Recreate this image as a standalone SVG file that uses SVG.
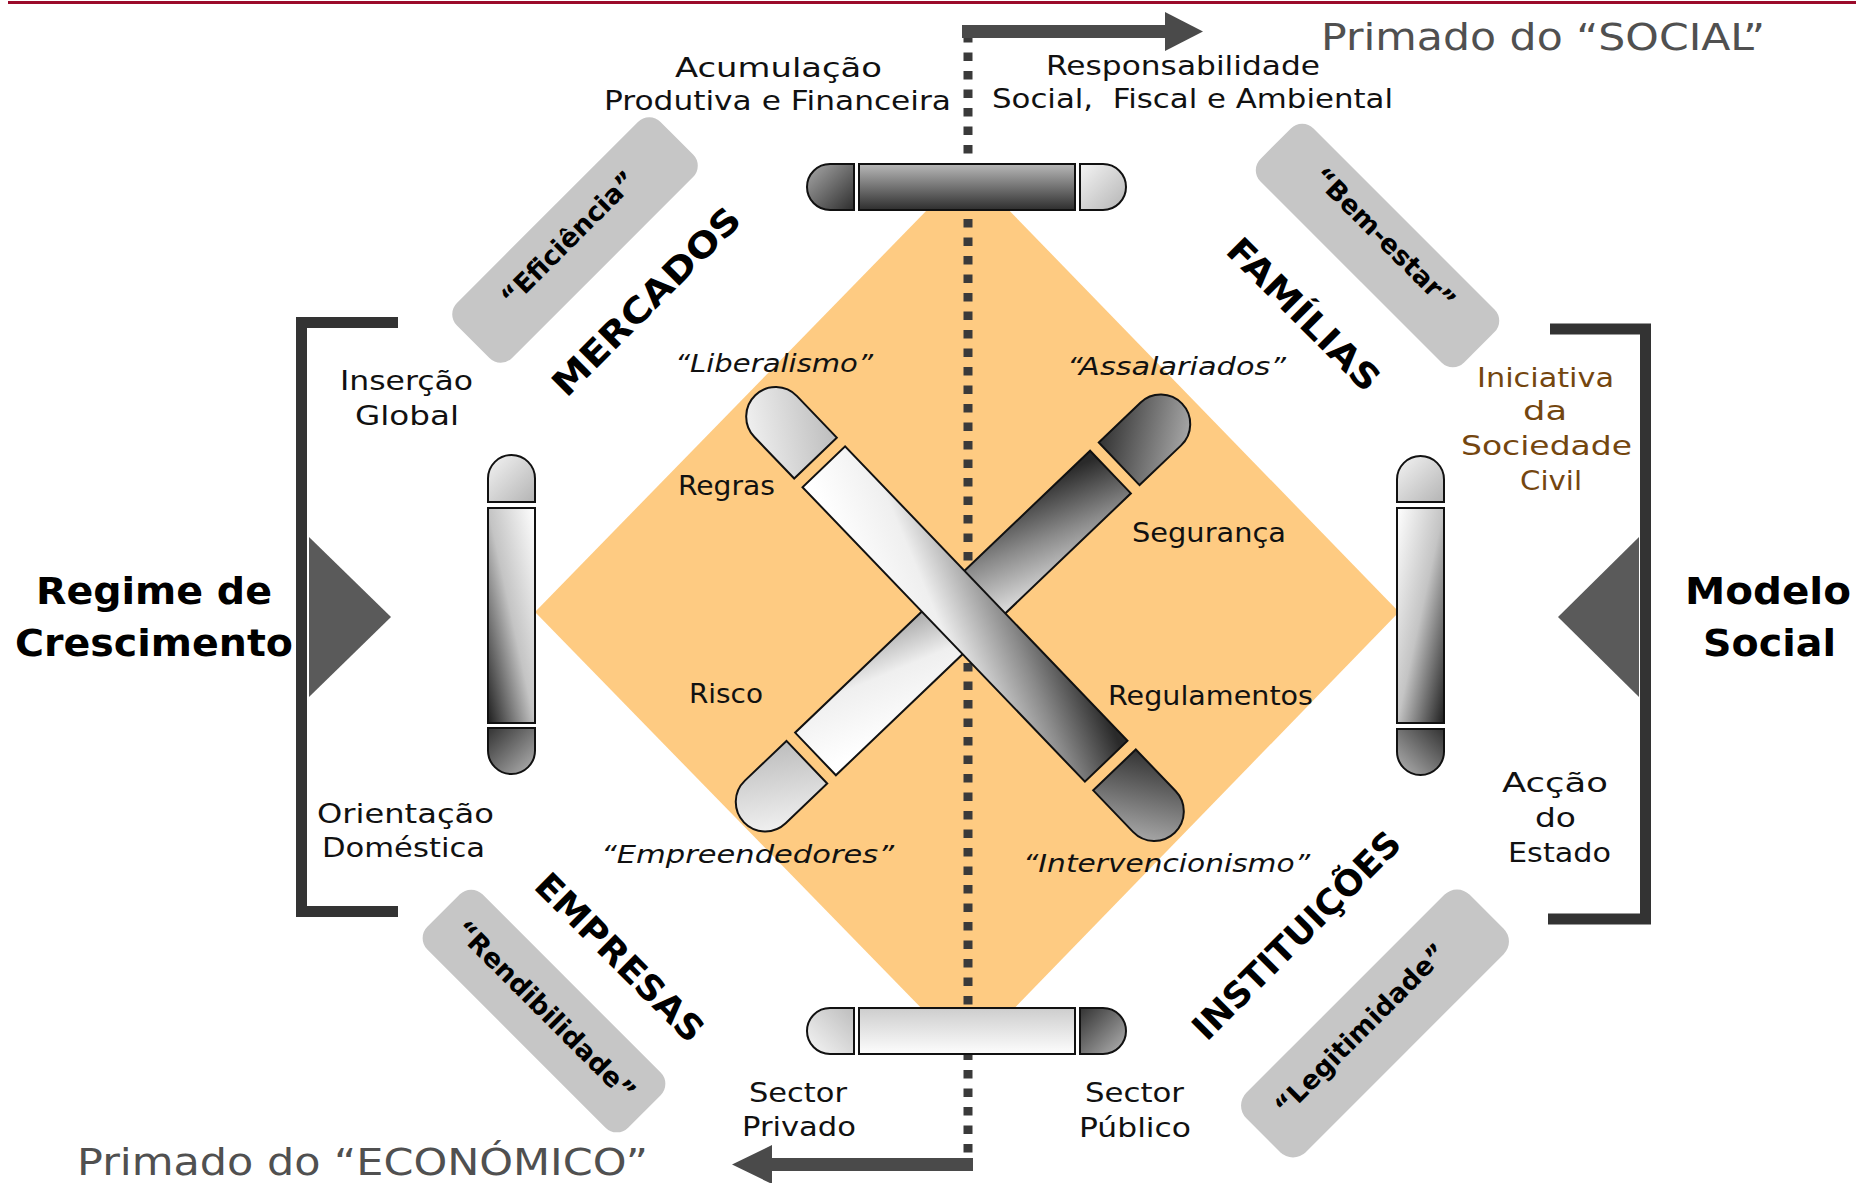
<svg xmlns="http://www.w3.org/2000/svg" xmlns:xlink="http://www.w3.org/1999/xlink" width="1856" height="1183" viewBox="0 0 1856 1183">
<defs>
<style>
.t{font-family:"DejaVu Sans","Liberation Sans",sans-serif;font-size:27px;fill:#111}
.i{font-style:italic;font-size:25px}
.b{font-weight:bold}
.big{font-size:38px;fill:#505050}
.hd{font-size:38px;fill:#000}
.sec{font-size:35px;fill:#000}
.bx{font-size:26.5px;fill:#000}
.brown{fill:#74460f}
.bar{stroke:#111;stroke-width:2}
.brk{fill:none;stroke:#333;stroke-width:11}
.box{fill:#c6c6c6}
.tri{fill:#5a5a5a}
.arrow{fill:#4a4a4a}
</style>
<linearGradient id="gLight" x1="0" y1="0" x2="1" y2="1"><stop offset="0" stop-color="#f4f4f4"/><stop offset="1" stop-color="#b4b4b4"/></linearGradient>
<linearGradient id="gLightL" x1="1" y1="0" x2="0" y2="1"><stop offset="0" stop-color="#bdbdbd"/><stop offset="1" stop-color="#f6f6f6"/></linearGradient>
<linearGradient id="gDark" x1="0" y1="0" x2="1" y2="1"><stop offset="0" stop-color="#333"/><stop offset="1" stop-color="#b4b4b4"/></linearGradient>
<linearGradient id="gDarkR" x1="1" y1="0" x2="0" y2="1"><stop offset="0" stop-color="#333"/><stop offset="1" stop-color="#b4b4b4"/></linearGradient>
<linearGradient id="gMid" x1="0" y1="0" x2="1" y2="1"><stop offset="0" stop-color="#aaa"/><stop offset="1" stop-color="#2e2e2e"/></linearGradient>
<linearGradient id="gVL" x1="1" y1="0" x2="0" y2="1"><stop offset="0" stop-color="#fff"/><stop offset="0.5" stop-color="#c4c4c4"/><stop offset="1" stop-color="#1e1e1e"/></linearGradient>
<linearGradient id="gVR" x1="0" y1="0" x2="1" y2="1"><stop offset="0" stop-color="#fff"/><stop offset="0.5" stop-color="#c4c4c4"/><stop offset="1" stop-color="#1e1e1e"/></linearGradient>
<linearGradient id="gTop" x1="0" y1="0" x2="0" y2="1"><stop offset="0" stop-color="#b8b8b8"/><stop offset="1" stop-color="#2e2e2e"/></linearGradient>
<linearGradient id="gBot" x1="0" y1="0" x2="0" y2="1"><stop offset="0" stop-color="#cdcdcd"/><stop offset="1" stop-color="#fdfdfd"/></linearGradient>
<linearGradient id="gX" gradientUnits="userSpaceOnUse" x1="-33" y1="85" x2="33" y2="-86"><stop offset="0" stop-color="#fff"/><stop offset="0.35" stop-color="#efefef"/><stop offset="0.7" stop-color="#8a8a8a"/><stop offset="1" stop-color="#2a2a2a"/></linearGradient>
<g id="xbar">
<path class="bar" fill="url(#gLightL)" d="M-216,-29.5 H-273.5 A29.5,29.5 0 0 0 -273.5,29.5 H-216 Z"/>
<rect class="bar" fill="url(#gX)" x="-204" y="-29.5" width="408" height="59"/>
<path class="bar" fill="url(#gDark)" d="M216,-29.5 H273.5 A29.5,29.5 0 0 1 273.5,29.5 H216 Z"/>
</g>
</defs>
<rect width="1856" height="1183" fill="#fff"/>
<line x1="8" y1="2.5" x2="1856" y2="2.5" stroke="#9b0a2a" stroke-width="3"/>

<g id="diamond"><polygon points="535,612 968,168 1399,612 968,1056" fill="#fecb82"/></g>

<g id="connectors">
<line x1="968" y1="34" x2="968" y2="1158" stroke="#3a3a3a" stroke-width="9" stroke-dasharray="8.5 10"/>
<rect class="arrow" x="962" y="25" width="204" height="13"/>
<polygon class="arrow" points="1165,12 1203,31.5 1165,51"/>
<rect class="arrow" x="771" y="1158" width="202" height="13"/>
<polygon class="arrow" points="772,1145 732,1164.5 772,1184"/>
</g>

<g id="bar-top">
<path class="bar" fill="url(#gMid)" d="M854,164 H830 A23,23 0 0 0 830,210 H854 Z"/>
<rect class="bar" fill="url(#gTop)" x="859" y="164" width="216" height="46"/>
<path class="bar" fill="url(#gLight)" d="M1080,164 H1103 A23,23 0 0 1 1103,210 H1080 Z"/>
</g>
<g id="bar-bottom">
<path class="bar" fill="url(#gLightL)" d="M854,1008 H830 A23,23 0 0 0 830,1054 H854 Z"/>
<rect class="bar" fill="url(#gBot)" x="859" y="1008" width="216" height="46"/>
<path class="bar" fill="url(#gDark)" d="M1080,1008 H1103 A23,23 0 0 1 1103,1054 H1080 Z"/>
</g>
<g id="bar-left">
<path class="bar" fill="url(#gLight)" d="M488,502 V478.5 A23.5,23.5 0 0 1 535,478.5 V502 Z"/>
<rect class="bar" fill="url(#gVL)" x="488" y="508" width="47" height="215"/>
<path class="bar" fill="url(#gDark)" d="M488,728 V750.5 A23.5,23.5 0 0 0 535,750.5 V728 Z"/>
</g>
<g id="bar-right">
<path class="bar" fill="url(#gLight)" d="M1397,502 V479.5 A23.5,23.5 0 0 1 1444,479.5 V502 Z"/>
<rect class="bar" fill="url(#gVR)" x="1397" y="508" width="47" height="215"/>
<path class="bar" fill="url(#gDarkR)" d="M1397,729 V751.5 A23.5,23.5 0 0 0 1444,751.5 V729 Z"/>
</g>
<g id="bar-assalariados-empreendedores"><use xlink:href="#xbar" transform="translate(963,613) rotate(-43.7)"/></g>
<g id="bar-liberalismo-intervencionismo"><use xlink:href="#xbar" transform="translate(965,614) rotate(46.2)"/></g>

<g id="bracket-left"><path class="brk" d="M398,322.5 H301.5 V911.5 H398"/><polygon class="tri" points="309,537 391,617 309,697"/></g>
<g id="bracket-right"><path class="brk" d="M1550,329 H1645.5 V919 H1548"/><polygon class="tri" points="1639,537 1558,617 1639,697"/></g>

<g id="box-eficiencia" transform="translate(575,240) rotate(-45)"><rect class="box" x="-144" y="-39" width="288" height="78" rx="16"/></g>
<g id="box-bemestar" transform="translate(1377.5,245.5) rotate(45)"><rect class="box" x="-144" y="-37.5" width="288" height="75" rx="16"/></g>
<g id="box-rendibilidade" transform="translate(544,1011) rotate(45)"><rect class="box" x="-142" y="-39" width="284" height="78" rx="16"/></g>
<g id="box-legitimidade" transform="translate(1375,1023.5) rotate(-45)"><rect class="box" x="-158" y="-42" width="316" height="84" rx="18"/></g>

<g id="labels-boxes">
<text class="t b bx" text-anchor="middle" textLength="178" lengthAdjust="spacingAndGlyphs" transform="translate(575,245) rotate(-45)">“Eficiência”</text>
<text class="t b bx" text-anchor="middle" textLength="188" lengthAdjust="spacingAndGlyphs" transform="translate(1378,245) rotate(45)">“Bem-estar”</text>
<text class="t b bx" text-anchor="middle" textLength="242" lengthAdjust="spacingAndGlyphs" transform="translate(539,1017) rotate(45)">“Rendibilidade”</text>
<text class="t b bx" text-anchor="middle" textLength="230" lengthAdjust="spacingAndGlyphs" transform="translate(1367,1036) rotate(-45)">“Legitimidade”</text>
</g>

<g id="labels-sectors">
<text class="t b sec" text-anchor="middle" textLength="250" lengthAdjust="spacingAndGlyphs" transform="translate(655,310) rotate(-45)">MERCADOS</text>
<text class="t b sec" text-anchor="middle" textLength="200" lengthAdjust="spacingAndGlyphs" transform="translate(1295,323) rotate(45)">FAMÍLIAS</text>
<text class="t b sec" text-anchor="middle" textLength="222" lengthAdjust="spacingAndGlyphs" transform="translate(611,966) rotate(45)">EMPRESAS</text>
<text class="t b sec" text-anchor="middle" textLength="278" lengthAdjust="spacingAndGlyphs" transform="translate(1305,944) rotate(-45)">INSTITUIÇÕES</text>
</g>

<g id="labels" text-anchor="middle">
<text class="t big" x="1543" y="50" textLength="444" lengthAdjust="spacingAndGlyphs">Primado do “SOCIAL”</text>
<text class="t big" x="362.5" y="1175" textLength="571" lengthAdjust="spacingAndGlyphs">Primado do “ECONÓMICO”</text>
<text class="t" x="778.5" y="77" textLength="207" lengthAdjust="spacingAndGlyphs">Acumulação</text>
<text class="t" x="777.5" y="110" textLength="347" lengthAdjust="spacingAndGlyphs">Produtiva e Financeira</text>
<text class="t" x="1183" y="75" textLength="274" lengthAdjust="spacingAndGlyphs">Responsabilidade</text>
<text class="t" x="1192.5" y="108" textLength="401" lengthAdjust="spacingAndGlyphs">Social,&#160; Fiscal e Ambiental</text>
<text class="t b hd" x="154" y="604" textLength="236" lengthAdjust="spacingAndGlyphs">Regime de</text>
<text class="t b hd" x="154" y="656" textLength="278" lengthAdjust="spacingAndGlyphs">Crescimento</text>
<text class="t b hd" x="1768" y="604" textLength="166" lengthAdjust="spacingAndGlyphs">Modelo</text>
<text class="t b hd" x="1769.5" y="656" textLength="133" lengthAdjust="spacingAndGlyphs">Social</text>
<text class="t" x="406.5" y="390" textLength="133" lengthAdjust="spacingAndGlyphs">Inserção</text>
<text class="t" x="407" y="425" textLength="104" lengthAdjust="spacingAndGlyphs">Global</text>
<text class="t" x="405.5" y="823" textLength="177" lengthAdjust="spacingAndGlyphs">Orientação</text>
<text class="t" x="403.5" y="857" textLength="163" lengthAdjust="spacingAndGlyphs">Doméstica</text>
<text class="t brown" x="1545.5" y="387" textLength="137" lengthAdjust="spacingAndGlyphs">Iniciativa</text>
<text class="t brown" x="1545" y="420" textLength="44" lengthAdjust="spacingAndGlyphs">da</text>
<text class="t brown" x="1546.5" y="455" textLength="171" lengthAdjust="spacingAndGlyphs">Sociedade</text>
<text class="t brown" x="1551" y="490" textLength="62" lengthAdjust="spacingAndGlyphs">Civil</text>
<text class="t" x="1555" y="792" textLength="106" lengthAdjust="spacingAndGlyphs">Acção</text>
<text class="t" x="1555.5" y="827" textLength="41" lengthAdjust="spacingAndGlyphs">do</text>
<text class="t" x="1559.5" y="862" textLength="103" lengthAdjust="spacingAndGlyphs">Estado</text>
<text class="t" x="798" y="1102" textLength="98" lengthAdjust="spacingAndGlyphs">Sector</text>
<text class="t" x="799" y="1136" textLength="114" lengthAdjust="spacingAndGlyphs">Privado</text>
<text class="t" x="1134.5" y="1102" textLength="99" lengthAdjust="spacingAndGlyphs">Sector</text>
<text class="t" x="1135" y="1137" textLength="112" lengthAdjust="spacingAndGlyphs">Público</text>
<text class="t i" x="774" y="372" textLength="198" lengthAdjust="spacingAndGlyphs">“Liberalismo”</text>
<text class="t i" x="1176.5" y="375" textLength="219" lengthAdjust="spacingAndGlyphs">“Assalariados”</text>
<text class="t i" x="747.5" y="863" textLength="293" lengthAdjust="spacingAndGlyphs">“Empreendedores”</text>
<text class="t i" x="1166.5" y="872" textLength="287" lengthAdjust="spacingAndGlyphs">“Intervencionismo”</text>
<text class="t" x="726.5" y="495" textLength="97" lengthAdjust="spacingAndGlyphs">Regras</text>
<text class="t" x="726" y="703" textLength="74" lengthAdjust="spacingAndGlyphs">Risco</text>
<text class="t" x="1209" y="542" textLength="154" lengthAdjust="spacingAndGlyphs">Segurança</text>
<text class="t" x="1210.5" y="705" textLength="205" lengthAdjust="spacingAndGlyphs">Regulamentos</text>
</g>
</svg>
